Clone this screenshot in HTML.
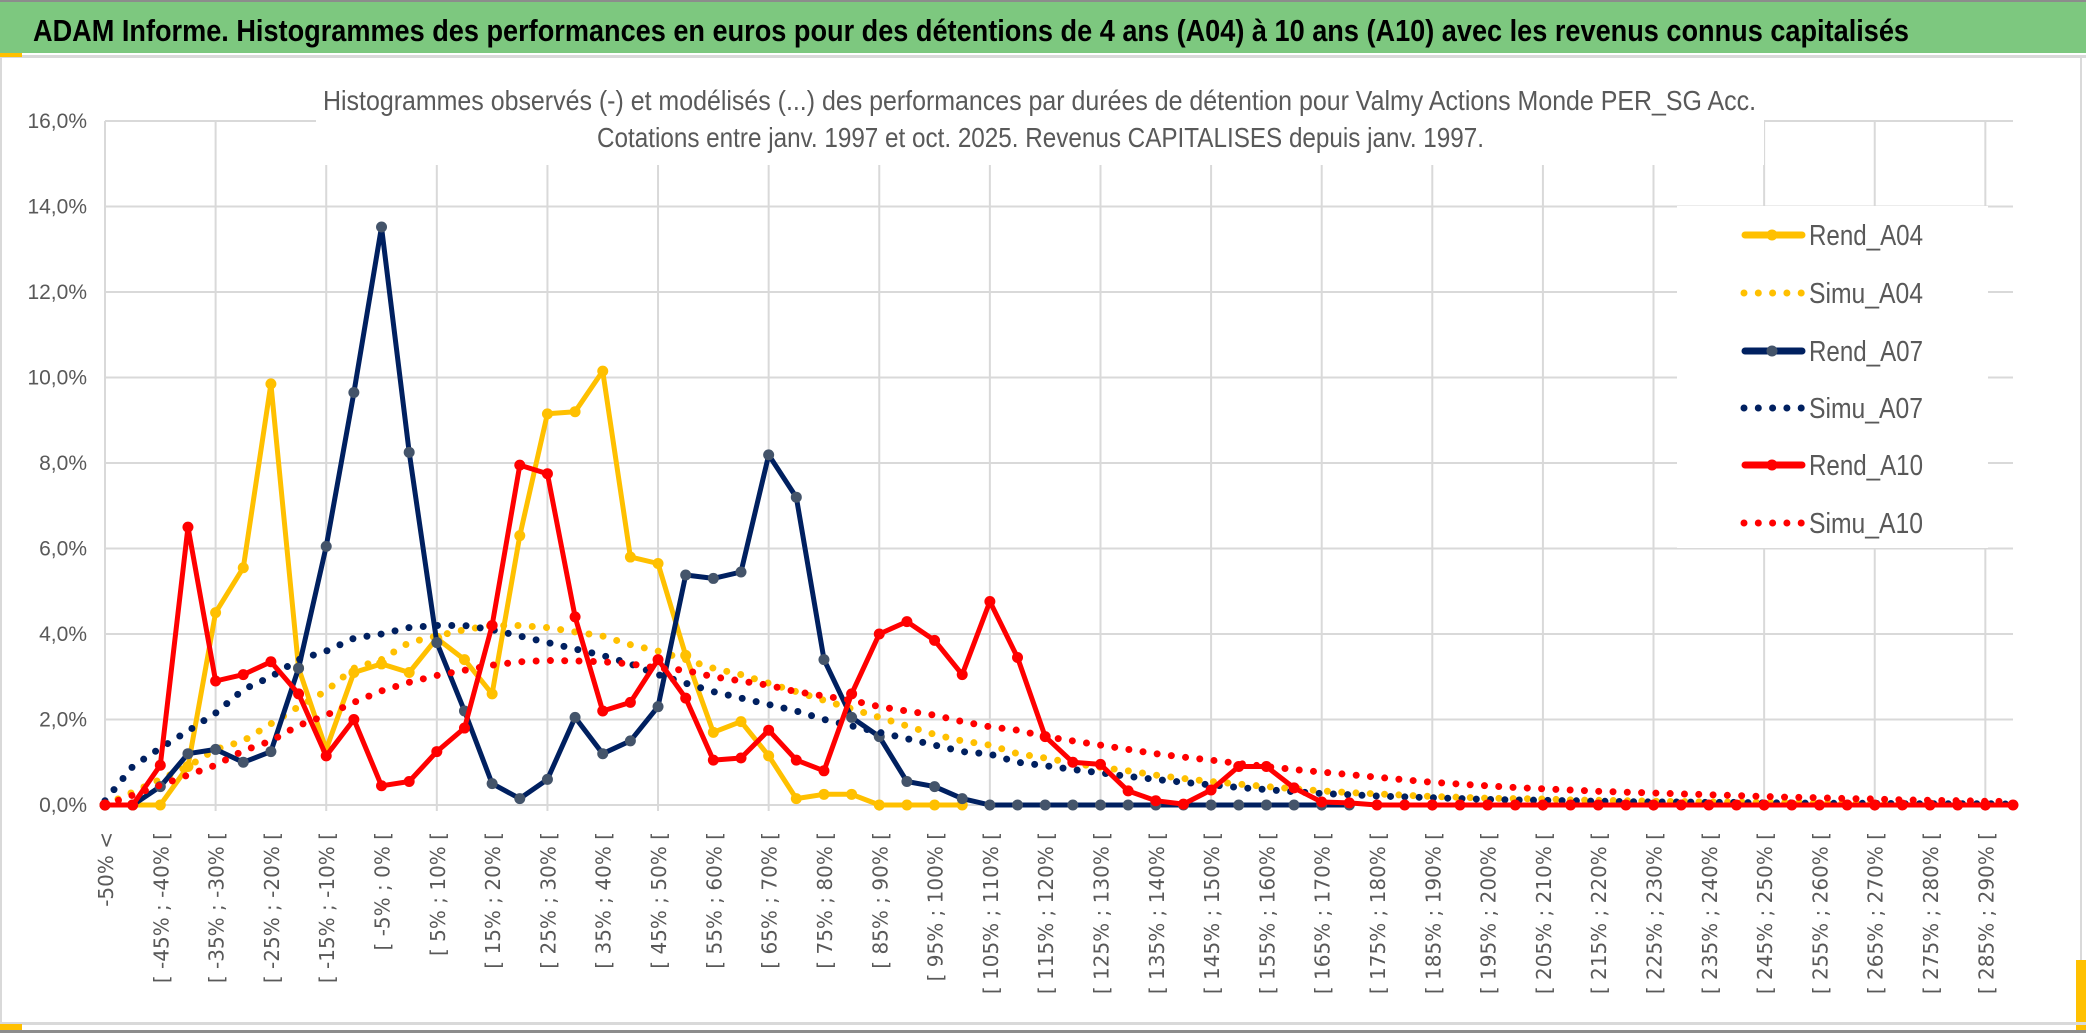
<!DOCTYPE html>
<html><head><meta charset="utf-8">
<style>
html,body{margin:0;padding:0;background:#fff;width:2086px;height:1033px;overflow:hidden}
svg{display:block}
.nar{font-family:"Liberation Sans Narrow","Liberation Sans",sans-serif}
</style></head>
<body>
<svg id="chart" width="2086" height="1033" viewBox="0 0 2086 1033" xmlns="http://www.w3.org/2000/svg">
  <rect x="0" y="0" width="2086" height="1033" fill="#fff"/>
  <rect x="0" y="2" width="2086" height="51" fill="#7DC87F"/>
  <rect x="0" y="0" width="2086" height="2" fill="#8c8c8c"/>
  <rect x="0" y="55" width="2086" height="3" fill="#d9d9d9"/>
  <rect x="0" y="53" width="22" height="4" fill="#FFC000"/>
  <text class="nar" x="33" y="41" font-size="31" font-weight="bold" fill="#000" textLength="1876" lengthAdjust="spacingAndGlyphs">ADAM Informe. Histogrammes des performances en euros pour des détentions de 4 ans (A04) à 10 ans (A10) avec les revenus connus capitalisés</text>
  <rect x="0" y="58" width="2" height="975" fill="#d9d9d9"/>
  <rect x="2080" y="58" width="2" height="975" fill="#d9d9d9"/>
  <rect x="2076" y="960" width="10" height="73" fill="#FFC000"/>
  <rect x="0" y="1022" width="2086" height="3" fill="#d9d9d9"/>
  <rect x="0" y="1030" width="2086" height="3" fill="#8c8c8c"/>
  <rect x="0" y="1024" width="22" height="6" fill="#FFC000"/>
  <g id="grid"></g>
  <rect x="316" y="70" width="1448" height="95" fill="#fff"/>
  <text class="nar" x="323" y="110" font-size="28" fill="#595959" textLength="1433" lengthAdjust="spacingAndGlyphs">Histogrammes observés (-) et modélisés (...) des performances par durées de détention pour Valmy Actions Monde PER_SG Acc.</text>
  <text class="nar" x="597" y="147" font-size="28" fill="#595959" textLength="887" lengthAdjust="spacingAndGlyphs">Cotations entre janv. 1997 et oct. 2025. Revenus CAPITALISES depuis janv. 1997.</text>
  <g id="yaxis"></g>
  <g id="xaxis"></g>
  <rect x="1677" y="206" width="311" height="342" fill="#fff"/>
  <g id="series"></g>
  <g id="legend"></g>
</svg>
<script>
const categories = ["-50% <","[ -50% ; -45% [","[ -45% ; -40% [","[ -40% ; -35% [","[ -35% ; -30% [","[ -30% ; -25% [","[ -25% ; -20% [","[ -20% ; -15% [","[ -15% ; -10% [","[ -10% ; -5% [","[ -5% ; 0% [","[ 0% ; 5% [","[ 5% ; 10% [","[ 10% ; 15% [","[ 15% ; 20% [","[ 20% ; 25% [","[ 25% ; 30% [","[ 30% ; 35% [","[ 35% ; 40% [","[ 40% ; 45% [","[ 45% ; 50% [","[ 50% ; 55% [","[ 55% ; 60% [","[ 60% ; 65% [","[ 65% ; 70% [","[ 70% ; 75% [","[ 75% ; 80% [","[ 80% ; 85% [","[ 85% ; 90% [","[ 90% ; 95% [","[ 95% ; 100% [","[ 100% ; 105% [","[ 105% ; 110% [","[ 110% ; 115% [","[ 115% ; 120% [","[ 120% ; 125% [","[ 125% ; 130% [","[ 130% ; 135% [","[ 135% ; 140% [","[ 140% ; 145% [","[ 145% ; 150% [","[ 150% ; 155% [","[ 155% ; 160% [","[ 160% ; 165% [","[ 165% ; 170% [","[ 170% ; 175% [","[ 175% ; 180% [","[ 180% ; 185% [","[ 185% ; 190% [","[ 190% ; 195% [","[ 195% ; 200% [","[ 200% ; 205% [","[ 205% ; 210% [","[ 210% ; 215% [","[ 215% ; 220% [","[ 220% ; 225% [","[ 225% ; 230% [","[ 230% ; 235% [","[ 235% ; 240% [","[ 240% ; 245% [","[ 245% ; 250% [","[ 250% ; 255% [","[ 255% ; 260% [","[ 260% ; 265% [","[ 265% ; 270% [","[ 270% ; 275% [","[ 275% ; 280% [","[ 280% ; 285% [","[ 285% ; 290% [","[ 290% ; 295% ["];
const yTicks = [0,2,4,6,8,10,12,14,16];
const yTickLabels = ["0,0%","2,0%","4,0%","6,0%","8,0%","10,0%","12,0%","14,0%","16,0%"];
const rendA04 = [0,0,0,0.9,4.5,5.55,9.85,3.2,1.3,3.1,3.3,3.1,3.9,3.4,2.6,6.3,9.15,9.2,10.15,5.8,5.65,3.5,1.7,1.95,1.15,0.15,0.25,0.25,0,0,0,0];
const simuA04 = [0,0.3,0.6,0.9,1.3,1.5,1.9,2.3,2.67,3.2,3.4,3.8,3.95,4.1,4.2,4.2,4.15,4.05,3.95,3.75,3.6,3.4,3.2,3.05,2.85,2.65,2.45,2.25,2.05,1.85,1.65,1.5,1.4,1.2,1.1,0.98,0.88,0.8,0.7,0.62,0.55,0.49,0.43,0.38,0.33,0.29,0.26,0.23,0.2,0.18,0.16,0.15,0.14,0.12,0.11,0.1,0.09,0.08,0.07,0.07,0.06,0.06,0.05,0.05,0.04,0.04,0.04,0.03,0.03,0.03];
const rendA07 = [0,0,0.43,1.2,1.3,1.0,1.25,3.2,6.05,9.65,13.52,8.25,3.8,2.2,0.5,0.15,0.6,2.05,1.2,1.5,2.3,5.38,5.3,5.45,8.19,7.2,3.4,2.05,1.6,0.55,0.43,0.15,0,0,0,0,0,0,0,0,0,0,0,0,0,0];
const simuA07 = [0.1,0.9,1.33,1.73,2.15,2.7,3.0,3.4,3.6,3.9,4.0,4.15,4.2,4.2,4.1,3.95,3.8,3.65,3.5,3.3,3.05,2.85,2.65,2.5,2.35,2.2,2.0,1.85,1.7,1.55,1.4,1.25,1.19,1.0,0.92,0.83,0.75,0.67,0.6,0.53,0.47,0.41,0.36,0.31,0.27,0.24,0.21,0.19,0.17,0.15,0.13,0.12,0.11,0.1,0.09,0.08,0.07,0.07,0.06,0.06,0.05,0.05,0.04,0.04,0.04,0.03,0.03,0.03,0.03,0.02];
const rendA10 = [0,0,0.93,6.5,2.9,3.05,3.35,2.6,1.15,2.0,0.45,0.55,1.25,1.8,4.2,7.95,7.75,4.4,2.2,2.4,3.4,2.5,1.05,1.1,1.75,1.05,0.8,2.6,4.0,4.29,3.85,3.05,4.76,3.45,1.6,1.0,0.95,0.33,0.1,0.02,0.35,0.9,0.9,0.4,0.07,0.05,0,0,0,0,0,0,0,0,0,0,0,0,0,0,0,0,0,0,0,0,0,0,0,0];
const simuA10 = [0,0.23,0.46,0.7,0.93,1.27,1.5,1.86,2.1,2.4,2.67,2.87,3.03,3.15,3.27,3.35,3.38,3.37,3.35,3.3,3.2,3.15,3.0,2.9,2.8,2.65,2.55,2.45,2.3,2.2,2.1,1.95,1.83,1.75,1.6,1.5,1.4,1.3,1.2,1.12,1.05,0.97,0.9,0.83,0.77,0.71,0.65,0.59,0.53,0.49,0.45,0.41,0.38,0.35,0.32,0.3,0.28,0.26,0.24,0.22,0.2,0.18,0.17,0.15,0.14,0.12,0.11,0.1,0.09,0.08];
const seriesNames = ["Rend_A04","Simu_A04","Rend_A07","Simu_A07","Rend_A10","Simu_A10"];

const NS = "http://www.w3.org/2000/svg";
const X0 = 105, X1 = 2013, Y0 = 805, Y1 = 121, YMAX = 16;
function xPos(i){ return X0 + i * (X1 - X0) / (categories.length - 1); }
function yPos(v){ return Y0 - v / YMAX * (Y0 - Y1); }
function mk(tag, attrs, parent){ const e = document.createElementNS(NS, tag); for (const k in attrs) e.setAttribute(k, attrs[k]); parent.appendChild(e); return e; }

const grid = document.getElementById('grid');
yTicks.forEach(function(t){
  const l = mk('line', {x1: X0, x2: X1, y1: yPos(t), y2: yPos(t), stroke: '#d9d9d9', 'stroke-width': 2}, grid);
  
  
});
for (let i = 0; i < categories.length; i += 4) {
  const l = mk('line', {x1: xPos(i), x2: xPos(i), y1: Y1, y2: Y0 + 6, stroke: '#d9d9d9', 'stroke-width': 2}, grid);
  
  
}

const yaxis = document.getElementById('yaxis');
yTicks.forEach(function(t, k){
  const tx = mk('text', {x: 87, y: yPos(t) + 7, 'text-anchor': 'end', 'font-size': 21, fill: '#595959', class: 'nar'}, yaxis);
  tx.textContent = yTickLabels[k];
  
  
});

const xaxis = document.getElementById('xaxis');
for (let i = 0; i < categories.length; i += 2) {
  const cx = xPos(i) + 8, cy = 832;
  const tx = mk('text', {x: cx, y: cy, transform: 'rotate(-90 ' + cx + ' ' + cy + ')', 'text-anchor': 'end', 'font-size': 20, fill: '#595959', 'font-family': '"DejaVu Sans", sans-serif'}, xaxis);
  tx.textContent = categories[i];
  
  
}

const seriesG = document.getElementById('series');
function pathFor(vals){
  let d = '';
  vals.forEach(function(v, i){ if (v === null || v === undefined) return; d += (d ? 'L' : 'M') + xPos(i).toFixed(1) + ' ' + yPos(v).toFixed(1); });
  return d;
}
function drawSolid(vals, color, mcolor, name){
  const g = mk('g', {}, seriesG);
  
  
  const p = mk('path', {d: pathFor(vals), fill: 'none', stroke: color, 'stroke-width': 5, 'stroke-linejoin': 'round', 'stroke-linecap': 'round'}, g);
  
  
  vals.forEach(function(v, i){
    const c = mk('circle', {cx: xPos(i), cy: yPos(v), r: 5.5, fill: mcolor}, g);
    
    
  });
}
function drawDotted(vals, color, name){
  const p = mk('path', {d: pathFor(vals), fill: 'none', stroke: color, 'stroke-width': 7, 'stroke-linecap': 'round', 'stroke-dasharray': '0 14.3'}, seriesG);
  
  
}
drawSolid(rendA04, '#FFC000', '#FFC000', 'rend-a04');
drawDotted(simuA04, '#FFC000', 'simu-a04');
drawSolid(rendA07, '#002060', '#44546A', 'rend-a07');
drawDotted(simuA07, '#002060', 'simu-a07');
drawSolid(rendA10, '#FF0000', '#FF0000', 'rend-a10');
drawDotted(simuA10, '#FF0000', 'simu-a10');

const legend = document.getElementById('legend');
const legColors = ['#FFC000','#FFC000','#002060','#002060','#FF0000','#FF0000'];
const legMark = ['#FFC000',null,'#44546A',null,'#FF0000',null];
const legY = [235,293,351,408,465,523];
seriesNames.forEach(function(n, k){
  const g = mk('g', {}, legend);
  
  
  const y = legY[k];
  if (legMark[k]) {
    mk('line', {x1: 1745, x2: 1802, y1: y, y2: y, stroke: legColors[k], 'stroke-width': 7, 'stroke-linecap': 'round'}, g);
    mk('circle', {cx: 1772, cy: y, r: 5.5, fill: legMark[k]}, g);
  } else {
    mk('line', {x1: 1744, x2: 1803, y1: y, y2: y, stroke: legColors[k], 'stroke-width': 7, 'stroke-linecap': 'round', 'stroke-dasharray': '0 14.3'}, g);
  }
  const t = mk('text', {x: 1809, y: y + 10, 'font-size': 29, fill: '#595959', class: 'nar', textLength: 114, lengthAdjust: 'spacingAndGlyphs'}, g);
  t.textContent = n;
});
</script>
</body></html>
